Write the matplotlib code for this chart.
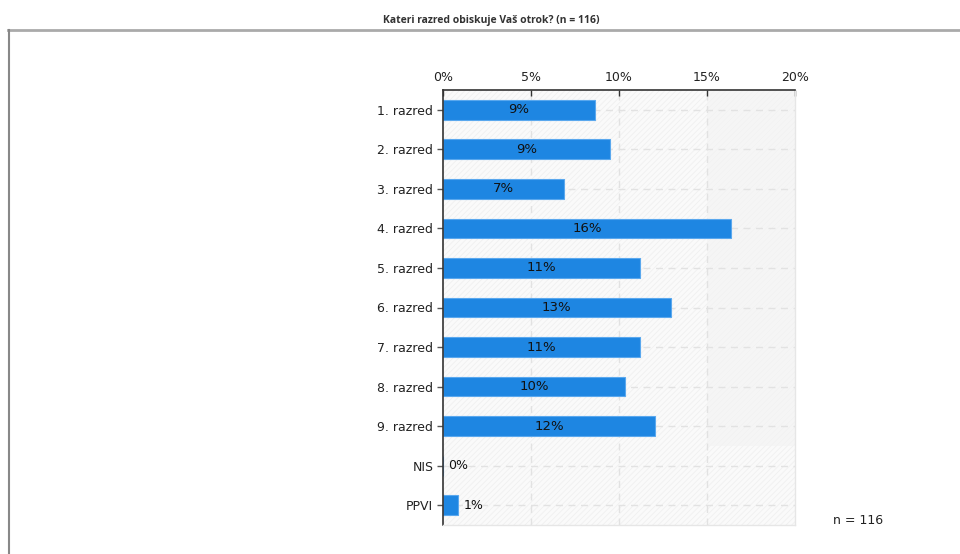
import matplotlib
matplotlib.use("Agg")
import matplotlib.pyplot as plt
from matplotlib.patches import Rectangle
from matplotlib.lines import Line2D
import matplotlib as mpl

categories = ["1. razred", "2. razred", "3. razred", "4. razred", "5. razred",
              "6. razred", "7. razred", "8. razred", "9. razred", "NIS", "PPVI"]
counts = [10, 11, 8, 19, 13, 15, 13, 12, 14, 0, 1]
n_total = 116
percent = [c / n_total * 100 for c in counts]
labels = [f"{round(p)}%" for p in percent]
xticks = [0, 5, 10, 15, 20]
xticklabels = ["0%", "5%", "10%", "15%", "20%"]
title = "Kateri razred obiskuje Vaš otrok? (n = 116)"
n_label = "n = 116"

mpl.rcParams['hatch.color'] = '#eeeeee'
mpl.rcParams['hatch.linewidth'] = 0.6

fig = plt.figure(figsize=(9.6, 5.54), dpi=100)
ax = fig.add_axes([443/960, 1-525/554, (795-443)/960, (525-90)/554])

ax.set_xlim(0, 20)
ax.set_ylim(len(categories) - 0.5, -0.5)

# background
ax.set_facecolor('#fafafa')
ax.add_patch(Rectangle((0, -0.5), 20, len(categories), facecolor='none',
                       edgecolor='#f0f0f0', hatch='//////', linewidth=0, zorder=0))
ax.add_patch(Rectangle((15, -0.5), 5, 9.0, facecolor='#f3f3f3', alpha=0.6,
                       edgecolor='none', zorder=0.1))

# grid
for xv in xticks[1:-1]:
    ax.axvline(xv, color='#e2e2e2', linestyle=(0, (5, 4)), linewidth=1, zorder=0.5)
for i in range(len(categories)):
    ax.axhline(i, color='#e2e2e2', linestyle=(0, (5, 4)), linewidth=1, zorder=0.5)

y = list(range(len(categories)))
ax.barh(y, percent, height=0.5, color='#1e86e2', edgecolor='#5aa8ee',
        linewidth=0.8, zorder=2)

for i, (p, lab) in enumerate(zip(percent, labels)):
    if p >= 3:
        ax.text(p / 2, i, lab, ha='center', va='center', fontsize=9.5,
                color='#111111', zorder=3)
    else:
        ax.text(p + 0.3, i, lab, ha='left', va='center', fontsize=9,
                color='#111111', zorder=3)

ax.set_yticks(y)
ax.set_yticklabels(categories, fontsize=9, color='#222222')
ax.set_xticks(xticks)
ax.set_xticklabels(xticklabels, fontsize=9, color='#222222')
ax.xaxis.tick_top()
ax.tick_params(axis='x', direction='in', length=4, width=1, color='#333333', pad=4)
ax.tick_params(axis='y', direction='out', length=4, width=1, color='#555555', pad=3)

for s in ['top', 'left']:
    ax.spines[s].set_color('#333333')
    ax.spines[s].set_linewidth(1.2)
for s in ['right', 'bottom']:
    ax.spines[s].set_color('#e6e6e6')
    ax.spines[s].set_linewidth(1)

# frame
fig.add_artist(Line2D([8/960, 1.0], [1-30/554, 1-30/554], color='#aaaaaa',
                      linewidth=2, transform=fig.transFigure))
fig.add_artist(Line2D([9/960, 9/960], [1-30/554, 0], color='#888888',
                      linewidth=1.5, transform=fig.transFigure))

fig.text(491/960, 1-20/554, title, ha='center', va='center', fontsize=7.5,
         fontweight='bold', color='#333333', family='Open Sans')
fig.text(858/960, 1-520/554, n_label, ha='center', va='center', fontsize=9,
         color='#222222')

fig.savefig("out.png", dpi=100)
